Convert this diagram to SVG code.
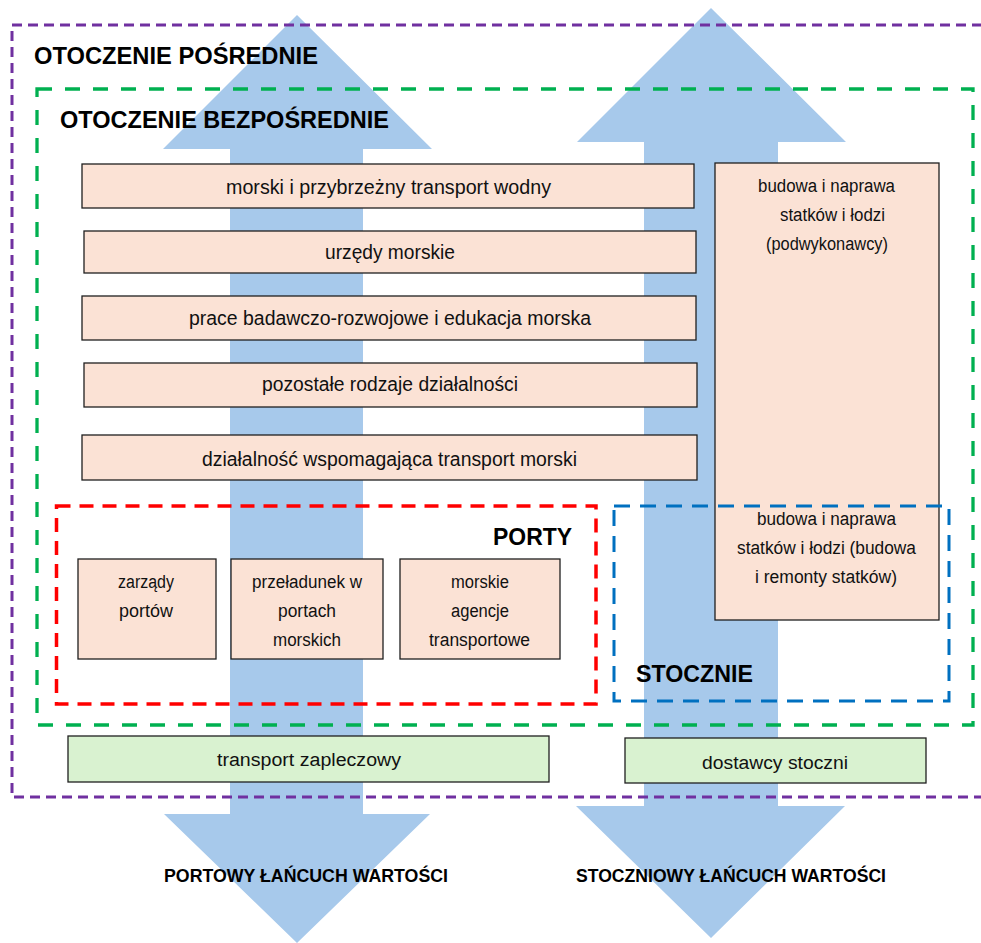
<svg xmlns="http://www.w3.org/2000/svg" width="981" height="943" viewBox="0 0 981 943">
<style>
.arrow{fill:#a7c9eb;stroke:none}
.box{fill:#fbe2d5;stroke:#1f1f1f;stroke-width:1.3}
.gbox{fill:#d9f2d0;stroke:#1f1f1f;stroke-width:1.3}
.t{font-family:"Liberation Sans",Arial,sans-serif;font-size:19.5px;fill:#111}
.s{font-family:"Liberation Sans",Arial,sans-serif;font-size:18px;fill:#111}
.h{font-family:"Liberation Sans",Arial,sans-serif;font-size:23.5px;font-weight:bold;fill:#000}
.c{font-family:"Liberation Sans",Arial,sans-serif;font-size:18px;font-weight:bold;fill:#000}
.zone{fill:none}
</style>
<rect width="981" height="943" fill="#fff"/>
<g id="flows">
<polygon class="arrow" points="297,15 432,149 363,149 363,814 430,814 297,943 164,814 230,814 230,149 163,149"/>
<polygon class="arrow" points="711,8 846,142 778,142 778,806 845,806 711,938 576,806 644,806 644,142 577,142"/>
</g>
<g id="otoczenie-posrednie">
<rect class="zone" x="12" y="25" width="980" height="772" stroke="#7030a0" stroke-width="3" stroke-dasharray="10 6"/>
<text class="h" x="34" y="64" textLength="284" lengthAdjust="spacingAndGlyphs">OTOCZENIE POŚREDNIE</text>
</g>
<g id="otoczenie-bezposrednie">
<rect class="zone" x="37" y="89" width="936" height="636" stroke="#00b050" stroke-width="3.3" stroke-dasharray="15 13"/>
<text class="h" x="60" y="128" textLength="329" lengthAdjust="spacingAndGlyphs">OTOCZENIE BEZPOŚREDNIE</text>
</g>
<g id="n1">
<rect class="box" x="82" y="164" width="612" height="44"/>
<text class="t" x="226" y="194" textLength="325" lengthAdjust="spacingAndGlyphs">morski i przybrzeżny transport wodny</text>
</g>
<g id="n2">
<rect class="box" x="84" y="231" width="612" height="42"/>
<text class="t" x="325" y="259" textLength="130" lengthAdjust="spacingAndGlyphs">urzędy morskie</text>
</g>
<g id="n3">
<rect class="box" x="82" y="296" width="614" height="44"/>
<text class="t" x="189" y="325" textLength="402" lengthAdjust="spacingAndGlyphs">prace badawczo-rozwojowe i edukacja morska</text>
</g>
<g id="n4">
<rect class="box" x="84" y="363" width="613" height="44"/>
<text class="t" x="262" y="391" textLength="256" lengthAdjust="spacingAndGlyphs">pozostałe rodzaje działalności</text>
</g>
<g id="n5">
<rect class="box" x="82" y="435" width="615" height="45"/>
<text class="t" x="202" y="466" textLength="375" lengthAdjust="spacingAndGlyphs">działalność wspomagająca transport morski</text>
</g>
<g id="n-budowa">
<rect class="box" x="715" y="163" width="224" height="457"/>
<text class="s" x="758" y="192" textLength="137" lengthAdjust="spacingAndGlyphs">budowa i naprawa</text>
<text class="s" x="780" y="221" textLength="105" lengthAdjust="spacingAndGlyphs">statków i łodzi</text>
<text class="s" x="766" y="250" textLength="122" lengthAdjust="spacingAndGlyphs">(podwykonawcy)</text>
<text class="s" x="757" y="525" textLength="139" lengthAdjust="spacingAndGlyphs">budowa i naprawa</text>
<text class="s" x="737" y="554" textLength="179" lengthAdjust="spacingAndGlyphs">statków i łodzi (budowa</text>
<text class="s" x="755" y="583" textLength="142" lengthAdjust="spacingAndGlyphs">i remonty statków)</text>
</g>
<g id="porty">
<rect class="zone" x="56.5" y="506" width="539.5" height="198" stroke="#ff0000" stroke-width="3.5" stroke-dasharray="14 9"/>
<text class="h" x="493" y="545" textLength="79" lengthAdjust="spacingAndGlyphs">PORTY</text>
</g>
<g id="stocznie">
<rect class="zone" x="614" y="506" width="335" height="195" stroke="#0070c0" stroke-width="3" stroke-dasharray="16 10"/>
<text class="h" x="636" y="682" textLength="117" lengthAdjust="spacingAndGlyphs">STOCZNIE</text>
</g>
<g id="p1">
<rect class="box" x="78" y="559" width="138" height="100"/>
<text class="s" x="118" y="588" textLength="56" lengthAdjust="spacingAndGlyphs">zarządy</text>
<text class="s" x="119" y="617" textLength="54" lengthAdjust="spacingAndGlyphs">portów</text>
</g>
<g id="p2">
<rect class="box" x="231" y="559" width="152" height="100"/>
<text class="s" x="252" y="588" textLength="110" lengthAdjust="spacingAndGlyphs">przeładunek w</text>
<text class="s" x="278" y="617" textLength="58" lengthAdjust="spacingAndGlyphs">portach</text>
<text class="s" x="273" y="646" textLength="68" lengthAdjust="spacingAndGlyphs">morskich</text>
</g>
<g id="p3">
<rect class="box" x="400" y="559" width="160" height="100"/>
<text class="s" x="451" y="588" textLength="58" lengthAdjust="spacingAndGlyphs">morskie</text>
<text class="s" x="451" y="617" textLength="58" lengthAdjust="spacingAndGlyphs">agencje</text>
<text class="s" x="429" y="646" textLength="101" lengthAdjust="spacingAndGlyphs">transportowe</text>
</g>
<g id="g1">
<rect class="gbox" x="68" y="736" width="481" height="46"/>
<text class="s" x="217" y="766" textLength="184" lengthAdjust="spacingAndGlyphs">transport zapleczowy</text>
</g>
<g id="g2">
<rect class="gbox" x="625" y="738" width="301" height="45"/>
<text class="s" x="702" y="769" textLength="146" lengthAdjust="spacingAndGlyphs">dostawcy stoczni</text>
</g>
<g id="chain-labels">
<text class="c" x="164" y="882" textLength="284" lengthAdjust="spacingAndGlyphs">PORTOWY ŁAŃCUCH WARTOŚCI</text>
<text class="c" x="576" y="882" textLength="310" lengthAdjust="spacingAndGlyphs">STOCZNIOWY ŁAŃCUCH WARTOŚCI</text>
</g>
</svg>
